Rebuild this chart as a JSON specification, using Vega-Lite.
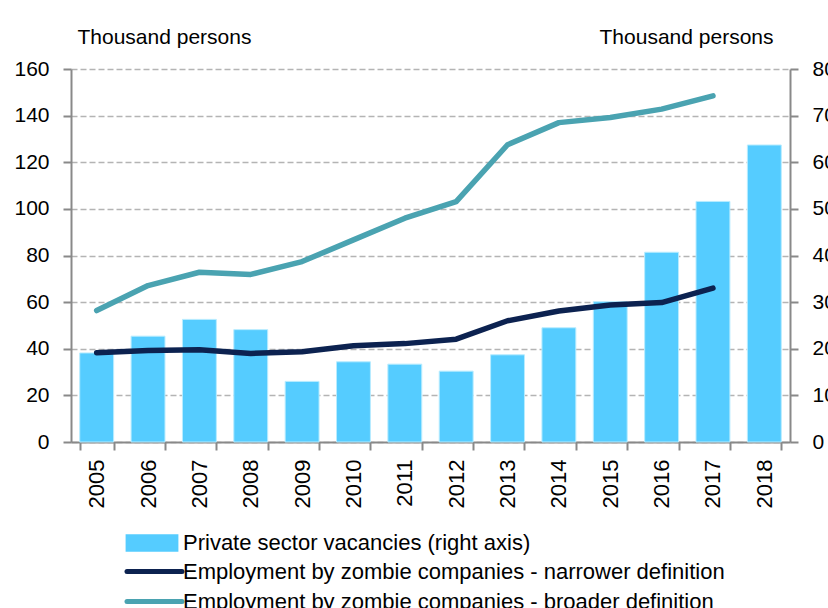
{
  "$schema": "https://vega.github.io/schema/vega-lite/v6.json",
  "width": 719,
  "height": 373,
  "autosize": {"type": "none"},
  "padding": {"left": 71, "top": 69, "right": 38, "bottom": 166},
  "background": "white",
  "config": {
    "font": "Liberation Sans",
    "view": {"stroke": null},
    "axis": {
      "labelFont": "Liberation Sans",
      "labelFontSize": 21,
      "labelColor": "#000000",
      "titleFont": "Liberation Sans",
      "titleFontSize": 21,
      "titleFontWeight": "normal",
      "titleColor": "#000000",
      "domainColor": "#898989",
      "domainWidth": 2,
      "tickColor": "#898989",
      "tickWidth": 2,
      "tickSize": 8
    },
    "legend": {
      "labelFont": "Liberation Sans",
      "labelFontSize": 22,
      "labelColor": "#000000",
      "labelLimit": 0,
      "padding": 0
    }
  },
  "datasets": {
    "vacancies": [
      {"year": "2005", "vacancies": 19.1, "series": "Private sector vacancies (right axis)"},
      {"year": "2006", "vacancies": 22.7, "series": "Private sector vacancies (right axis)"},
      {"year": "2007", "vacancies": 26.3, "series": "Private sector vacancies (right axis)"},
      {"year": "2008", "vacancies": 24.1, "series": "Private sector vacancies (right axis)"},
      {"year": "2009", "vacancies": 13.0, "series": "Private sector vacancies (right axis)"},
      {"year": "2010", "vacancies": 17.2, "series": "Private sector vacancies (right axis)"},
      {"year": "2011", "vacancies": 16.7, "series": "Private sector vacancies (right axis)"},
      {"year": "2012", "vacancies": 15.2, "series": "Private sector vacancies (right axis)"},
      {"year": "2013", "vacancies": 18.7, "series": "Private sector vacancies (right axis)"},
      {"year": "2014", "vacancies": 24.5, "series": "Private sector vacancies (right axis)"},
      {"year": "2015", "vacancies": 30.1, "series": "Private sector vacancies (right axis)"},
      {"year": "2016", "vacancies": 40.7, "series": "Private sector vacancies (right axis)"},
      {"year": "2017", "vacancies": 51.6, "series": "Private sector vacancies (right axis)"},
      {"year": "2018", "vacancies": 63.7, "series": "Private sector vacancies (right axis)"}
    ],
    "employment": [
      {"year": "2005", "series": "Employment by zombie companies - narrower definition", "value": 38.3},
      {"year": "2006", "series": "Employment by zombie companies - narrower definition", "value": 39.2},
      {"year": "2007", "series": "Employment by zombie companies - narrower definition", "value": 39.6},
      {"year": "2008", "series": "Employment by zombie companies - narrower definition", "value": 38.0},
      {"year": "2009", "series": "Employment by zombie companies - narrower definition", "value": 38.7},
      {"year": "2010", "series": "Employment by zombie companies - narrower definition", "value": 41.3},
      {"year": "2011", "series": "Employment by zombie companies - narrower definition", "value": 42.2},
      {"year": "2012", "series": "Employment by zombie companies - narrower definition", "value": 44.1},
      {"year": "2013", "series": "Employment by zombie companies - narrower definition", "value": 52.0},
      {"year": "2014", "series": "Employment by zombie companies - narrower definition", "value": 56.2},
      {"year": "2015", "series": "Employment by zombie companies - narrower definition", "value": 58.8},
      {"year": "2016", "series": "Employment by zombie companies - narrower definition", "value": 59.8},
      {"year": "2017", "series": "Employment by zombie companies - narrower definition", "value": 66.0},
      {"year": "2005", "series": "Employment by zombie companies - broader definition", "value": 56.4},
      {"year": "2006", "series": "Employment by zombie companies - broader definition", "value": 67.1},
      {"year": "2007", "series": "Employment by zombie companies - broader definition", "value": 72.8},
      {"year": "2008", "series": "Employment by zombie companies - broader definition", "value": 71.9},
      {"year": "2009", "series": "Employment by zombie companies - broader definition", "value": 77.4},
      {"year": "2010", "series": "Employment by zombie companies - broader definition", "value": 86.7},
      {"year": "2011", "series": "Employment by zombie companies - broader definition", "value": 96.0},
      {"year": "2012", "series": "Employment by zombie companies - broader definition", "value": 103.1},
      {"year": "2013", "series": "Employment by zombie companies - broader definition", "value": 127.5},
      {"year": "2014", "series": "Employment by zombie companies - broader definition", "value": 137.0},
      {"year": "2015", "series": "Employment by zombie companies - broader definition", "value": 139.2},
      {"year": "2016", "series": "Employment by zombie companies - broader definition", "value": 142.8},
      {"year": "2017", "series": "Employment by zombie companies - broader definition", "value": 148.5}
    ]
  },
  "layer": [
    {
      "data": {"name": "vacancies"},
      "mark": {"type": "bar", "stroke": "#b8ecff", "strokeWidth": 1},
      "encoding": {
        "x": {
          "field": "year",
          "type": "ordinal",
          "scale": {"paddingInner": 0.34, "paddingOuter": 0.17},
          "axis": {
            "title": null,
            "labelAngle": -90,
            "labelAlign": "right",
            "labelBaseline": "middle",
            "labelPadding": 9,
            "labelFontSize": 22,
            "tickBand": "extent",
            "grid": false,
            "domainColor": "#898989"
          }
        },
        "y": {
          "field": "vacancies",
          "type": "quantitative",
          "scale": {"domain": [0, 80]},
          "axis": {
            "orient": "right",
            "values": [0, 10, 20, 30, 40, 50, 60, 70, 80],
            "grid": false,
            "labelAlign": "left",
            "labelPadding": 14,
            "title": "Thousand persons",
            "titleAngle": 0,
            "titleAlign": "right",
            "titleBaseline": "middle",
            "titleX": -17,
            "titleY": -32
          }
        },
        "fill": {
          "field": "series",
          "type": "nominal",
          "scale": {"range": ["#55ccff"]},
          "legend": {
            "orient": "none",
            "legendX": 70,
            "legendY": 463,
            "title": null,
            "symbolType": "M-2.4,-0.8H2.4V0.8H-2.4Z",
            "symbolSize": 484,
            "symbolStrokeWidth": 0,
            "labelOffset": 20
          }
        }
      }
    },
    {
      "data": {"name": "employment"},
      "mark": {"type": "line", "strokeWidth": 5.5, "strokeCap": "round", "strokeJoin": "round"},
      "encoding": {
        "x": {"field": "year", "type": "ordinal"},
        "y": {
          "field": "value",
          "type": "quantitative",
          "scale": {"domain": [0, 160]},
          "axis": {
            "orient": "left",
            "values": [0, 20, 40, 60, 80, 100, 120, 140, 160],
            "grid": true,
            "gridColor": "#b4b4b4",
            "gridDash": [6, 3],
            "gridWidth": 1.5,
            "labelPadding": 14,
            "title": "Thousand persons",
            "titleAngle": 0,
            "titleAlign": "left",
            "titleBaseline": "middle",
            "titleX": 6,
            "titleY": -32
          }
        },
        "stroke": {
          "field": "series",
          "type": "nominal",
          "scale": {
            "domain": ["Employment by zombie companies - narrower definition", "Employment by zombie companies - broader definition"],
            "range": ["#0c2250", "#4aa3b1"]
          },
          "legend": {
            "orient": "none",
            "legendX": 70,
            "legendY": 489,
            "title": null,
            "symbolType": "M-2.5,0H2.5",
            "symbolSize": 484,
            "symbolStrokeWidth": 5,
            "labelOffset": 15,
            "rowPadding": 5,
            "encode": {"symbols": {"update": {"strokeCap": {"value": "round"}}}}
          }
        }
      }
    }
  ],
  "resolve": {"scale": {"y": "independent"}}
}
